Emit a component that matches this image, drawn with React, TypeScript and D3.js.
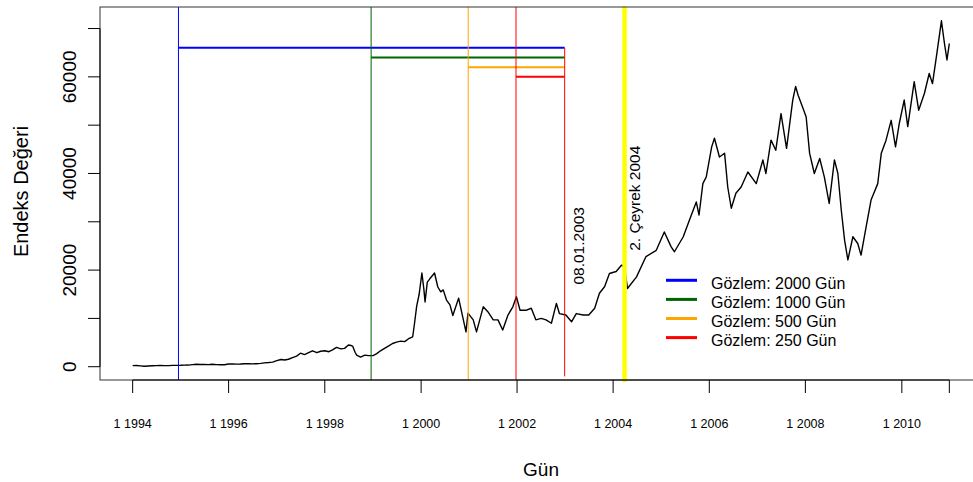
import React, { useEffect, useRef } from "react";
import * as d3 from "d3";

// index series (roughly monthly, more points where it moves fast)
const obsDates = [
  "1994-01-03", "1994-02-01", "1994-03-01", "1994-04-01", "1994-05-02", "1994-06-01", "1994-07-01", "1994-08-01",
  "1994-09-01", "1994-10-03", "1994-11-01", "1994-12-01", "1995-01-02", "1995-02-01", "1995-03-01", "1995-04-03",
  "1995-05-02", "1995-06-01", "1995-07-03", "1995-08-01", "1995-09-01", "1995-10-02", "1995-11-01", "1995-12-01",
  "1996-01-02", "1996-02-01", "1996-03-01", "1996-04-01", "1996-05-02", "1996-06-03", "1996-07-01", "1996-08-01",
  "1996-09-02", "1996-10-01", "1996-11-01", "1996-12-02", "1997-01-02", "1997-02-03", "1997-03-03", "1997-04-01",
  "1997-05-02", "1997-06-02", "1997-07-01", "1997-08-01", "1997-09-01", "1997-10-01", "1997-11-03", "1997-12-01",
  "1998-01-02", "1998-02-02", "1998-03-02", "1998-04-01", "1998-05-04", "1998-06-01", "1998-07-01", "1998-07-20",
  "1998-08-03", "1998-08-20", "1998-09-01", "1998-10-01", "1998-11-02", "1998-12-01", "1999-01-04", "1999-02-01",
  "1999-03-01", "1999-04-01", "1999-05-03", "1999-06-01", "1999-07-01", "1999-08-02", "1999-09-01", "1999-10-01",
  "1999-11-01", "1999-11-15", "1999-12-01", "1999-12-20", "2000-01-10", "2000-01-25", "2000-02-03", "2000-02-20",
  "2000-03-10", "2000-04-15", "2000-05-10", "2000-06-01", "2000-06-20", "2000-07-15", "2000-08-10", "2000-09-01",
  "2000-10-15", "2000-11-15", "2000-12-10", "2000-12-25", "2001-02-03", "2001-02-28", "2001-04-20", "2001-05-25",
  "2001-07-05", "2001-08-10", "2001-09-15", "2001-10-25", "2001-12-01", "2001-12-28", "2002-01-25", "2002-03-15",
  "2002-04-20", "2002-05-25", "2002-07-05", "2002-08-10", "2002-09-20", "2002-10-28", "2002-11-20", "2003-01-08",
  "2003-02-20", "2003-03-28", "2003-05-20", "2003-07-01", "2003-08-15", "2003-09-20", "2003-10-30", "2003-12-05",
  "2004-01-25", "2004-03-05", "2004-03-28", "2004-04-20", "2004-06-28", "2004-09-08", "2004-11-25", "2005-01-25",
  "2005-03-18", "2005-04-12", "2005-06-18", "2005-08-05", "2005-09-25", "2005-10-16", "2005-11-14", "2005-12-10",
  "2006-01-20", "2006-02-10", "2006-03-20", "2006-04-28", "2006-05-22", "2006-06-18", "2006-07-23", "2006-09-01",
  "2006-10-22", "2006-12-25", "2007-02-13", "2007-03-08", "2007-04-16", "2007-05-22", "2007-07-01", "2007-08-12",
  "2007-09-28", "2007-10-20", "2007-11-08", "2007-12-15", "2008-01-08", "2008-02-03", "2008-03-10", "2008-04-20",
  "2008-05-25", "2008-07-01", "2008-08-10", "2008-09-05", "2008-10-01", "2008-10-26", "2008-11-20", "2008-12-28",
  "2009-02-03", "2009-02-28", "2009-04-08", "2009-05-15", "2009-07-05", "2009-08-01", "2009-09-06", "2009-10-15",
  "2009-11-17", "2009-12-16", "2010-01-22", "2010-02-18", "2010-04-08", "2010-05-12", "2010-06-25", "2010-07-31",
  "2010-08-25", "2010-09-27", "2010-11-01", "2010-11-24", "2010-12-13", "2010-12-31",
];
const indexValues = [
  230, 260, 180, 110, 160, 190, 230, 250,
  230, 220, 270, 280, 290, 330, 340, 430,
  510, 470, 490, 440, 500, 430, 420, 410,
  560, 570, 540, 560, 610, 640, 590, 620,
  700, 800, 860, 960, 1250, 1500, 1400, 1550,
  1900, 2200, 2800, 2500, 2900, 3300, 2900, 3200,
  3300, 3100, 3500, 4000, 3700, 3800, 4500, 4400,
  4200, 3000, 2400, 2000, 2400, 2300, 2300, 2700,
  3300, 3800, 4300, 4800, 5100, 5300, 5200, 5800,
  6200, 9000, 12500, 15000, 19400, 16000, 13400, 17500,
  18200, 19400, 16500, 15500, 15900, 13800, 12800, 10600,
  14200, 10300, 7200, 11100, 9700, 7200, 12400, 11400,
  9700, 9700, 7600, 10700, 12400, 14500, 11700, 11700,
  12100, 9700, 10000, 9700, 9000, 13100, 11000, 10700,
  9300, 11000, 10700, 10700, 12100, 15200, 16600, 19300,
  19700, 21000, 20800, 16200, 18600, 22800, 24100, 27900,
  24800, 23800, 26900, 30400, 34100, 31400, 37900, 39300,
  45500, 47300, 43400, 44200, 37200, 32800, 35900, 37200,
  40300, 37900, 42800, 40000, 46900, 44800, 52400, 45200,
  55200, 58000, 56200, 53500, 51700, 44200, 40000, 43100,
  39300, 33800, 42800, 40000, 32400, 26200, 22100, 26900,
  25500, 23100, 29000, 34500, 37900, 44200, 46900, 51000,
  45500, 50400, 55200, 49700, 59000, 53100, 56600, 60700,
  58600, 64800, 71600, 66900, 63500, 66900,
];

// estimation windows ending at the forecast origin
const windowLabels = ["Gözlem: 2000 Gün", "Gözlem: 1000 Gün", "Gözlem: 500 Gün", "Gözlem: 250 Gün"];
const windowStarts = ["1994-12-17", "1998-12-20", "2000-12-27", "2001-12-25"];
const windowLevels = [66000, 64000, 62000, 60000];
const windowColors = ["#0000ff", "#006400", "#ffa500", "#ff0000"];
const originDate = "2002-12-30";
const originLabel = "08.01.2003";
const quarterDate = "2004-03-29";
const quarterLabel = "2. Çeyrek 2004";

const xTickDates = ["1994-01-03", "1996-01-02", "1998-01-02", "2000-01-04", "2002-01-02", "2004-01-02", "2006-01-02", "2008-01-02", "2010-01-04", "2010-12-31"];
const xTickShown = [true, true, true, true, true, true, true, true, true, false];
const yTicks = [0, 10000, 20000, 30000, 40000, 50000, 60000, 70000];
const yLabels = [0, 20000, 40000, 60000];

const FONT = "'Liberation Sans', Arial, Helvetica, sans-serif";

function Chart() {
  const ref = useRef<SVGSVGElement | null>(null);

  useEffect(() => {
    const width = 973;
    const height = 482;
    const left = 100, right = 982, top = 7, bottom = 380;
    const parse = d3.timeParse("%Y-%m-%d");
    const data = obsDates.map((d, i) => ({ date: parse(d) as Date, value: indexValues[i] }));

    const svg = d3.select(ref.current);
    svg.selectAll("*").remove();
    svg.attr("width", width).attr("height", height);

    // R style: range extended 4% on both sides
    const xExt = d3.extent(data, (d) => d.date) as [Date, Date];
    const xPad = (+xExt[1] - +xExt[0]) * 0.04;
    const x = d3.scaleTime()
      .domain([new Date(+xExt[0] - xPad), new Date(+xExt[1] + xPad)])
      .range([left, right]);
    const yExt = d3.extent(data, (d) => d.value) as [number, number];
    const yPad = (yExt[1] - yExt[0]) * 0.04;
    const y = d3.scaleLinear().domain([yExt[0] - yPad, yExt[1] + yPad]).range([bottom, top]);

    svg.append("defs").append("clipPath").attr("id", "plotclip")
      .append("rect").attr("x", left).attr("y", top).attr("width", right - left).attr("height", bottom - top);

    const plot = svg.append("g").attr("clip-path", "url(#plotclip)");

    // index line
    const line = d3.line<{ date: Date; value: number }>()
      .x((d) => x(d.date))
      .y((d) => y(d.value));
    plot.append("path")
      .datum(data)
      .attr("fill", "none")
      .attr("stroke", "#000")
      .attr("stroke-width", 1.4)
      .attr("stroke-linejoin", "round")
      .attr("d", line);

    const xo = x(parse(originDate) as Date);

    // window start lines + horizontal spans
    windowStarts.forEach((s, i) => {
      const xs = x(parse(s) as Date);
      plot.append("line")
        .attr("x1", xs).attr("x2", xs).attr("y1", top).attr("y2", bottom)
        .attr("stroke", windowColors[i]).attr("stroke-width", 1);
      plot.append("line")
        .attr("x1", xs).attr("x2", xo).attr("y1", y(windowLevels[i])).attr("y2", y(windowLevels[i]))
        .attr("stroke", windowColors[i]).attr("stroke-width", 2);
    });

    // forecast origin
    plot.append("line")
      .attr("x1", xo).attr("x2", xo).attr("y1", y(windowLevels[0])).attr("y2", y(-2000))
      .attr("stroke", "#ff0000").attr("stroke-width", 1);

    // quarter marker
    const xq = x(parse(quarterDate) as Date);
    svg.append("line")
      .attr("x1", xq).attr("x2", xq).attr("y1", top - 1).attr("y2", bottom + 2)
      .attr("stroke", "#ffff00").attr("stroke-width", 4.5);

    svg.append("text")
      .attr("transform", `translate(${xo + 19},${y(17000)}) rotate(-90)`)
      .attr("font-family", FONT).attr("font-size", 15.5)
      .text(originLabel);
    svg.append("text")
      .attr("transform", `translate(${xq + 15},${y(24000)}) rotate(-90)`)
      .attr("font-family", FONT).attr("font-size", 15.5)
      .text(quarterLabel);

    // box
    svg.append("rect")
      .attr("x", left).attr("y", top).attr("width", right - left).attr("height", bottom - top)
      .attr("fill", "none").attr("stroke", "#333").attr("stroke-width", 1);

    // x axis
    const xAxis = svg.append("g").attr("font-family", FONT);
    const tickXs = xTickDates.map((d) => x(parse(d) as Date));
    xAxis.append("line")
      .attr("x1", tickXs[0]).attr("x2", tickXs[tickXs.length - 1])
      .attr("y1", bottom).attr("y2", bottom).attr("stroke", "#000");
    const fmt = d3.timeFormat("%-m %Y");
    xTickDates.forEach((d, i) => {
      xAxis.append("line")
        .attr("x1", tickXs[i]).attr("x2", tickXs[i]).attr("y1", bottom).attr("y2", bottom + 13)
        .attr("stroke", "#000");
      if (xTickShown[i]) {
        xAxis.append("text")
          .attr("x", tickXs[i]).attr("y", bottom + 48)
          .attr("text-anchor", "middle").attr("font-size", 12.5)
          .text(fmt(parse(d) as Date));
      }
    });

    // y axis
    const yAxis = svg.append("g").attr("font-family", FONT);
    yAxis.append("line")
      .attr("x1", left).attr("x2", left)
      .attr("y1", y(yTicks[0])).attr("y2", y(yTicks[yTicks.length - 1])).attr("stroke", "#000");
    yTicks.forEach((t) => {
      yAxis.append("line")
        .attr("x1", left - 12).attr("x2", left).attr("y1", y(t)).attr("y2", y(t))
        .attr("stroke", "#000");
    });
    yLabels.forEach((t) => {
      yAxis.append("text")
        .attr("transform", `translate(75.5,${y(t)}) rotate(-90)`)
        .attr("text-anchor", "middle").attr("font-size", 19)
        .text(String(t));
    });

    // axis titles
    svg.append("text")
      .attr("x", (left + right) / 2).attr("y", 476)
      .attr("text-anchor", "middle").attr("font-family", FONT).attr("font-size", 19)
      .text("Gün");
    svg.append("text")
      .attr("transform", `translate(27.5,${(top + bottom) / 2 - 2}) rotate(-90)`)
      .attr("text-anchor", "middle").attr("font-family", FONT).attr("font-size", 20)
      .text("Endeks Değeri");

    // legend
    const legend = svg.append("g").attr("font-family", FONT);
    windowLabels.forEach((lab, i) => {
      const ly = 280.3 + i * 19.1;
      legend.append("line")
        .attr("x1", 666).attr("x2", 697).attr("y1", ly).attr("y2", ly)
        .attr("stroke", windowColors[i]).attr("stroke-width", 3);
      legend.append("text")
        .attr("x", 711).attr("y", ly + 8.6).attr("font-size", 16)
        .text(lab);
    });
  }, []);

  return <svg ref={ref} style={{ position: "absolute", left: 0, top: 0, background: "#fff" }} />;
}

export default function App() {
  return <Chart />;
}
